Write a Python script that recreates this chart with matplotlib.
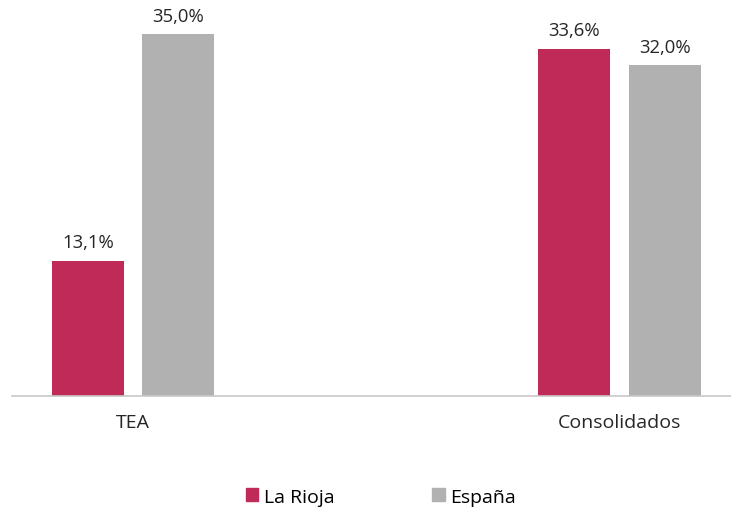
import matplotlib.pyplot as plt
from matplotlib.patches import Patch

categories = ["TEA", "Consolidados"]
series_names = ["La Rioja", "España"]
la_rioja = [13.1, 33.6]
espana = [35.0, 32.0]
colors = ["#C02A58", "#B1B1B1"]

plt.rcParams['font.family'] = ['Open Sans', 'DejaVu Sans']

fig = plt.figure(figsize=(7.31, 5.10), dpi=100)
ax = fig.add_axes([12 / 731, 113 / 510, 719 / 731, 397 / 510])

x = [0, 1]
width = 0.148
offset = 0.093

for i, (vals, col) in enumerate(zip([la_rioja, espana], colors)):
    pos = [p + (offset if i else -offset) for p in x]
    bars = ax.bar(pos, vals, width=width, color=col)
    for b, v in zip(bars, vals):
        ax.text(b.get_x() + b.get_width() / 2, v + 0.9,
                f"{v:.1f}%".replace(".", ","),
                ha="center", va="bottom", fontsize=13.3, color="#262626")

ax.set_xlim(-0.249, 1.229)
ax.set_ylim(0, 38.4)

for s in ["top", "right", "left"]:
    ax.spines[s].set_visible(False)
ax.spines["bottom"].set_color("#C8C8C8")
ax.spines["bottom"].set_linewidth(1.2)
ax.set_yticks([])
ax.set_xticks(x)
ax.set_xticklabels(categories, fontsize=14, color="#262626")
ax.tick_params(axis="x", length=0, pad=12)

handles = [Patch(color=c) for c in colors]
fig.legend(handles, series_names, loc="center", bbox_to_anchor=(0.521, 0.024),
           ncol=2, frameon=False, fontsize=14, handlelength=0.65, handleheight=0.65,
           handletextpad=0.3, columnspacing=5.0)

fig.savefig("out.png", dpi=100)
